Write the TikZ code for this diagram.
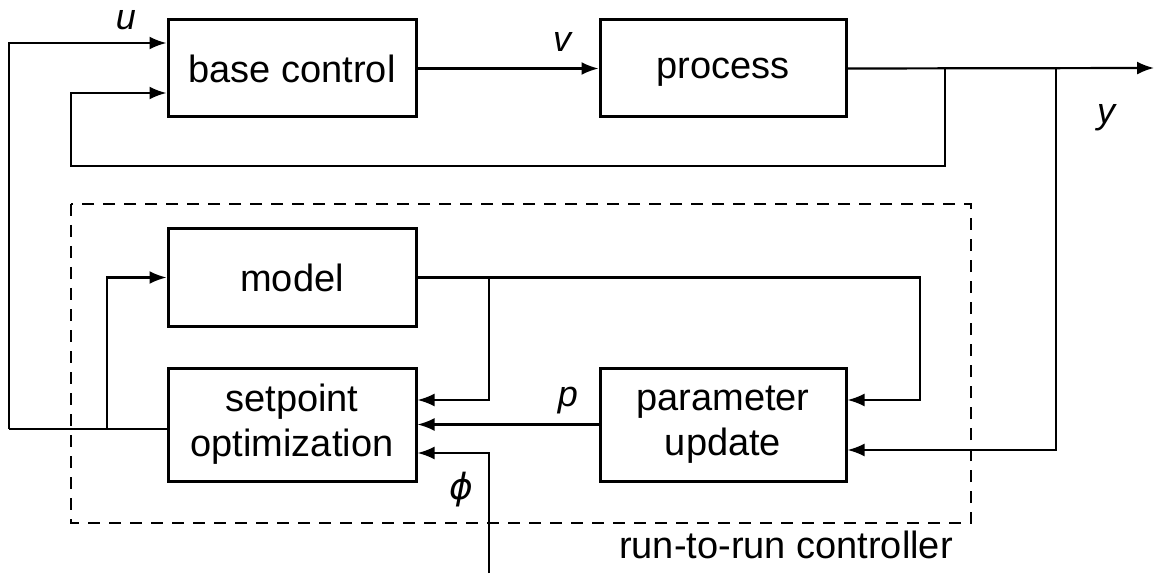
\documentclass[tikz,border=0pt]{standalone}
\usepackage{fontspec}
\setmainfont{Liberation Sans}
\newfontfamily\phifont{DejaVu Sans}
\usetikzlibrary{arrows.meta}

\tikzset{
  blk/.style={draw, line width=3pt, minimum width=248pt, minimum height=97pt,
    inner sep=0pt, align=center, font=\fontsize{38}{45}\selectfont},
  con/.style={line width=2.2pt},
  arr/.style={con, -{Latex[length=17pt,width=13pt]}},
  lbl/.style={font=\fontsize{36}{38}\selectfont\itshape},
}

\begin{document}
\begin{tikzpicture}[x=1pt,y=-1pt]
  \useasboundingbox (0,0) rectangle (1156,577);
  % run-to-run controller frame
  \draw[line width=2pt, dash pattern=on 12pt off 9pt] (71,204) rectangle (971,523);
  \node[font=\fontsize{38}{40}\selectfont] (rtr) at (786,545) {run-to-run controller};

  % blocks
  \node[blk] (base) at (292,68.5) {base control};
  \node[blk, minimum width=246pt] (proc) at (723,68.5) {\vphantom{b}process};
  \node[blk] (model) at (292,277.5) {model};
  \node[blk, minimum height=113pt] (opt) at (292,424.5) {setpoint\\optimization};
  \node[blk, minimum width=246pt, minimum height=113pt] (upd) at (723,424.5) {parameter\\update};

  % branch points
  \coordinate (yout) at (1154,68);
  \coordinate (fb) at (945,68);
  \coordinate (ymeas) at (1056,68);
  \coordinate (mb) at (920,277.5);
  \coordinate (mo) at (489,277.5);
  \coordinate (ul) at (9,429);
  \coordinate (ub) at (107,429);
  \coordinate (phin) at (489,573);

  % process loop
  \draw[arr] (base.east) -- (proc.west);
  \draw[arr] (proc.east) -- (yout);
  \draw[arr] (fb) |- (71,166) |- ([yshift=-24.5pt]base.west);
  \draw[arr] (ymeas) |- ([yshift=-25.5pt]upd.east);

  % run-to-run loop
  \draw[arr] (model.east) -| (mb) |- ([yshift=24.5pt]upd.east);
  \draw[arr] (mo) |- ([yshift=24.5pt]opt.east);
  \draw[arr] (upd.west) -- (opt.east);
  \draw[arr] (phin) |- ([yshift=-28.5pt]opt.east);
  \draw[con] (opt.west |- ul) -- (ul);
  \draw[arr] (ul) |- ([yshift=25.5pt]base.west);
  \draw[arr] (ub) |- (model.west);

  % signal labels
  \node[lbl] (u) at (126,20) {u};
  \node[lbl] (v) at (562,42) {v};
  \node[lbl] (y) at (1106,118) {y};
  \node[lbl] (p) at (568,401) {p};
  \node[lbl] (phi) at (461,490) {\phifont\itshape ϕ};
\end{tikzpicture}
\end{document}
